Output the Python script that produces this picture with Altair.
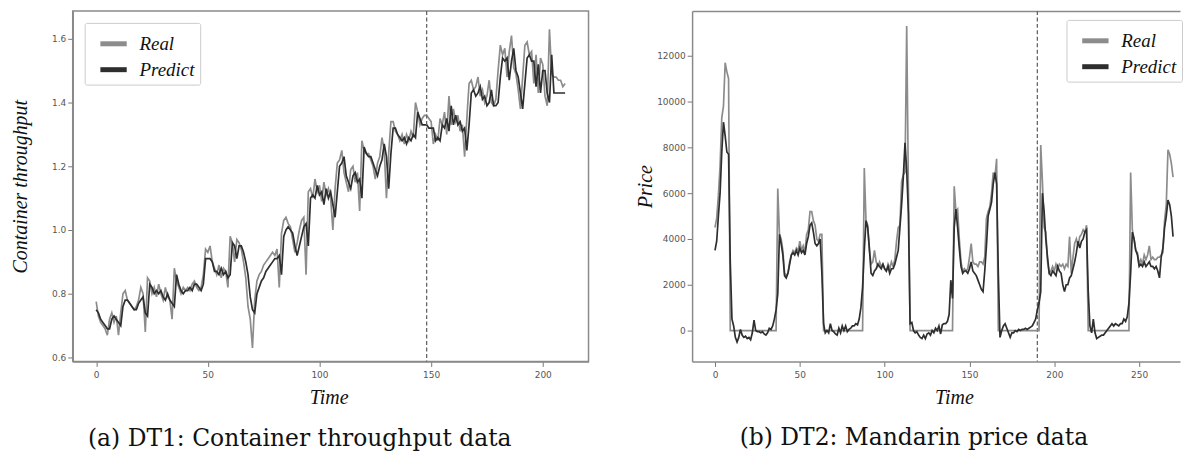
import altair as alt
import pandas as pd

# ---------------- data ----------------
series_names = ["Real", "Predict"]
series_colors = ["#8c8c8c", "#2e2e2e"]

dt1_real = [
    0.775, 0.73, 0.71, 0.70, 0.69, 0.67, 0.72, 0.74, 0.71, 0.73,
    0.67, 0.74, 0.80, 0.81, 0.78, 0.77, 0.76, 0.75, 0.76, 0.78,
    0.82, 0.80, 0.68, 0.85, 0.84, 0.80, 0.82, 0.79, 0.83, 0.80,
    0.78, 0.82, 0.79, 0.78, 0.72, 0.88, 0.84, 0.82, 0.80, 0.82,
    0.81, 0.82, 0.81, 0.83, 0.84, 0.82, 0.81, 0.82, 0.86, 0.94,
    0.93, 0.95, 0.90, 0.88, 0.86, 0.89, 0.85, 0.88, 0.87, 0.82,
    0.98, 0.96, 0.90, 0.97, 0.96, 0.94, 0.90, 0.85, 0.76, 0.72,
    0.63, 0.78, 0.84, 0.86, 0.87, 0.89, 0.90, 0.91, 0.92, 0.93,
    0.92, 0.94, 0.82, 0.99, 1.03, 1.04, 1.02, 1.01, 0.97, 0.93,
    0.96, 1.00, 1.03, 1.04, 0.86, 1.12, 1.13, 1.10, 1.16, 1.12,
    1.14, 1.09, 1.15, 1.11, 1.13, 1.10, 1.00, 1.13, 1.21, 1.22,
    1.25, 1.18, 1.15, 1.12, 1.19, 1.20, 1.15, 1.18, 1.06, 1.28,
    1.25, 1.24, 1.24, 1.22, 1.20, 1.16, 1.21, 1.23, 1.29, 1.25,
    1.10, 1.24, 1.34, 1.34, 1.31, 1.30, 1.28, 1.30, 1.27, 1.30,
    1.28, 1.31, 1.29, 1.40, 1.37, 1.33, 1.35, 1.36, 1.36, 1.35,
    1.34, 1.27, 1.30, 1.28, 1.35, 1.33, 1.37, 1.30, 1.42, 1.33,
    1.38, 1.34, 1.36, 1.31, 1.33, 1.23, 1.35, 1.46, 1.47, 1.44,
    1.45, 1.48, 1.42, 1.44, 1.40, 1.42, 1.47, 1.40, 1.39, 1.41,
    1.50, 1.58, 1.55, 1.57, 1.48, 1.56, 1.61, 1.51, 1.49, 1.44,
    1.38, 1.48, 1.58, 1.59, 1.55, 1.56, 1.46, 1.55, 1.43, 1.54,
    1.52, 1.42, 1.39, 1.63, 1.49, 1.48, 1.48, 1.47, 1.47, 1.45,
    1.46,
]

dt1_pred = [
    0.75, 0.74, 0.72, 0.71, 0.70, 0.69, 0.69, 0.72, 0.73, 0.72,
    0.71, 0.70, 0.76, 0.78, 0.78, 0.77, 0.76, 0.75, 0.75, 0.77,
    0.78, 0.79, 0.74, 0.73, 0.83, 0.82, 0.80, 0.81, 0.80, 0.81,
    0.79, 0.78, 0.80, 0.78, 0.77, 0.76, 0.86, 0.83, 0.81, 0.80,
    0.81, 0.81, 0.82, 0.81, 0.83, 0.83, 0.82, 0.81, 0.83, 0.91,
    0.91, 0.91, 0.90, 0.87, 0.87, 0.86, 0.88, 0.86, 0.87, 0.85,
    0.86, 0.96, 0.95, 0.91, 0.95, 0.95, 0.93, 0.90, 0.86, 0.79,
    0.75, 0.74, 0.80, 0.82, 0.84, 0.85, 0.87, 0.88, 0.89, 0.90,
    0.91, 0.91, 0.92, 0.86, 0.98, 1.00, 1.01, 1.00, 0.99, 0.95,
    0.92, 0.95, 0.98, 1.01, 1.02, 0.95, 1.10, 1.11, 1.10, 1.14,
    1.11, 1.12, 1.08, 1.13, 1.10, 1.12, 1.08, 1.04, 1.12, 1.20,
    1.21, 1.23, 1.17, 1.15, 1.13, 1.17, 1.18, 1.15, 1.16, 1.10,
    1.26, 1.24, 1.23, 1.23, 1.21, 1.19, 1.17, 1.20, 1.22, 1.27,
    1.23, 1.13, 1.24, 1.32, 1.32, 1.30, 1.29, 1.28, 1.29, 1.27,
    1.29, 1.28, 1.30, 1.29, 1.37, 1.35, 1.33, 1.33, 1.33, 1.32,
    1.32, 1.32, 1.28, 1.29, 1.28, 1.33, 1.32, 1.35, 1.31, 1.39,
    1.33, 1.36, 1.33, 1.34, 1.31, 1.32, 1.25, 1.33, 1.43, 1.44,
    1.42, 1.43, 1.45, 1.41, 1.42, 1.39, 1.40, 1.44, 1.39, 1.39,
    1.40, 1.48, 1.54, 1.53, 1.54, 1.47, 1.53, 1.57, 1.50, 1.48,
    1.43, 1.38, 1.46, 1.54, 1.55, 1.53, 1.53, 1.45, 1.52, 1.43,
    1.50, 1.50, 1.43, 1.40, 1.55, 1.43, 1.43, 1.43, 1.43, 1.43,
    1.43,
]
dt1_split = [148]
dt1_xticks = [0, 50, 100, 150, 200]
dt1_yticks = [0.6, 0.8, 1.0, 1.2, 1.4, 1.6]

dt2_real = [
    4500, 4900, 5900, 7200, 9300, 9800, 11700, 11300, 11000, 0,
    0, 0, 0, 0, 0, 0, 0, 0, 0, 0,
    0, 0, 0, 0, 0, 0, 0, 0, 0, 0,
    0, 0, 0, 0, 0, 0, 0, 6200, 4200, 4000,
    3500, 2500, 2400, 2500, 3000, 3300, 3500, 3400, 3600, 3500,
    3900, 3500, 3700, 3400, 4200, 4400, 5200, 5200, 4800, 4600,
    4000, 3900, 4200, 4200, 0, 0, 0, 0, 0, 0,
    0, 0, 0, 0, 0, 0, 0, 0, 0, 0,
    0, 0, 0, 0, 0, 0, 0, 0, 7100, 4800,
    4600, 3500, 2900, 3000, 3500, 3000, 2800, 3000, 2800, 2900,
    2700, 2600, 2900, 2700, 3000, 2800, 3100, 3900, 4500, 4600,
    6500, 6800, 6900, 13300, 6200, 0, 0, 0, 0, 0,
    0, 0, 0, 0, 0, 0, 0, 0, 0, 0,
    0, 0, 0, 0, 0, 0, 0, 0, 0, 0,
    0, 6300, 5200, 5300, 4000, 3000, 2600, 2700, 2600, 2700,
    3200, 3800, 3000, 2900, 2900, 2800, 3000, 3000, 2900, 3200,
    4900, 5200, 5400, 6000, 6900, 6700, 7500, 0, 0, 0,
    0, 0, 0, 0, 0, 0, 0, 0, 0, 0,
    0, 0, 0, 0, 0, 0, 0, 0, 0, 0,
    0, 0, 8100, 6500, 4500, 4300, 3000, 2500, 2600, 2800,
    2600, 2900, 2700, 2900, 2800, 2900, 2700, 2900, 2800, 4100,
    2500, 3200, 3800, 4000, 3700, 4100, 4200, 4400, 4300, 4600,
    0, 0, 0, 0, 0, 0, 0, 0, 0, 0,
    0, 0, 0, 0, 0, 0, 0, 0, 0, 0,
    0, 0, 0, 0, 0, 6900, 4400, 4000, 3500, 3400,
    2900, 3100, 2900, 3300, 3100, 3300, 3700, 3100, 3200, 3100,
    3100, 3200, 3200, 3300, 3400, 4800, 5500, 7900, 7700, 7300,
    6700,
]

dt2_pred = [
    3500, 3900, 5000, 6000, 7800, 9100, 8500, 7800, 7700, 3000,
    500, 200, -300, -500, -300, 50, -200, -300, -250, -350,
    -300, -400, -100, 450, 0, -50, -50, -100, -50, -150,
    -200, -100, 100, 50, 200, 500, 900, 1600, 4200, 3800,
    3300, 2400, 2300, 2500, 2900, 3300, 3400, 3300, 3500, 3300,
    3600, 3400, 3500, 3300, 3800, 4100, 4600, 4700, 4300, 3800,
    3700, 3800, 4000, 2500, 300, -100, 0, -100, 300, 0,
    -50, -150, -200, 100, -100, 200, 0, 200, -50, 50,
    100, 200, 200, 300, 250, 500, 1000, 1900, 3500, 4800,
    4500, 3600, 2500, 2400, 2600, 2700, 2900, 2800, 2700, 2900,
    2700, 2600, 2800, 2500, 2700, 2700, 2900, 3200, 3500, 4500,
    5500, 6700, 8200, 7000, 5100, 300, 350, 0, -100, -50,
    -200, -300, -350, -200, -350, -150, -100, -200, 0, -100,
    100, 0, 200, -150, 250, 300, 300, 400, 700, 2200,
    1400, 4500, 5300, 4500, 3600, 2800, 2500, 2600, 2600, 2500,
    2700, 3000, 2600, 2500, 2400, 2200, 2000, 1800, 1700, 2600,
    3700, 5000, 5300, 5600, 6400, 6900, 6400, 2500, -300, 0,
    200, 300, 100, -100, -300, -100, -100, 0, -50, 50,
    0, 50, 50, 100, 50, 100, 150, 200, 350, 500,
    900, 1200, 1700, 6000, 5200, 4000, 3200, 2500, 2400, 2600,
    2500, 2400, 2800, 2600, 2500, 2000, 1700, 2000, 2000, 2300,
    2400, 2700, 3000, 3400, 3900, 3600, 3900, 4000, 4300, 4400,
    1700, 200, -100, 500, -100, -350, -300, -250, -200, -200,
    -100, 0, 100, 200, 300, 200, 300, 250, 200, 300,
    300, 500, 400, 600, 1200, 2500, 4300, 4000, 3500, 3300,
    2800, 2900, 2800, 3000, 2800, 2900, 3000, 2800, 2800, 2700,
    2800, 2600, 2300, 3200, 3600, 4500, 5000, 5700, 5500, 5000,
    4100,
]
dt2_split = [190]
dt2_xticks = [0, 50, 100, 150, 200, 250]
dt2_yticks = [0, 2000, 4000, 6000, 8000, 10000, 12000]

captions = ["(a) DT1: Container throughput data", "(b) DT2: Mandarin price data"]


def long_frame(real, pred):
    rows = [{"Time": i, "value": v, "series": "Real"} for i, v in enumerate(real)]
    rows += [{"Time": i, "value": v, "series": "Predict"} for i, v in enumerate(pred)]
    return pd.DataFrame(rows)


# ---------------- styling ----------------
FRAME = "#8a8a8a"
SERIF = "Liberation Serif"
CAPTION_FONT = "DejaVu Serif"
TICK_FONT = "DejaVu Sans"
PANEL_H = 352

axis_common = dict(
    grid=False,
    labelFont=TICK_FONT,
    labelFontSize=9,
    labelColor="#555555",
    tickColor="#777777",
    tickSize=5,
    tickWidth=1,
    domainColor=FRAME,
    domainWidth=1.5,
    titleFont=SERIF,
    titleFontStyle="italic",
    titleFontWeight="normal",
    titleFontSize=20,
    titleColor="#111111",
    titleBaseline="alphabetic",
)

legend_common = dict(
    title=None,
    orient="none",
    direction="vertical",
    symbolType="stroke",
    symbolStrokeWidth=5,
    symbolSize=700,
    symbolOffset=8,
    labelFont=SERIF,
    labelFontStyle="italic",
    labelFontSize=19,
    labelColor="#111111",
    labelOffset=10,
    labelLimit=300,
    padding=5,
    rowPadding=0,
    strokeColor="#cccccc",
    fillColor="white",
    cornerRadius=2,
    labelExpr="datum.label == 'Real' ? '\u00a0\u00a0' + datum.label : datum.label",
)

color_scale = alt.Scale(domain=series_names, range=series_colors)
caption_common = dict(
    orient="bottom",
    anchor="middle",
    frame="bounds",
    font=CAPTION_FONT,
    fontSize=23.5,
    fontWeight="normal",
    color="#111111",
    baseline="alphabetic",
)

# ---------------- panel (a) ----------------
df1 = long_frame(dt1_real, dt1_pred)
x1 = alt.Scale(domain=[-10.5, 220.5], nice=False, zero=False)
y1 = alt.Scale(domain=[0.5875, 1.6875], nice=False, zero=False)

line1 = alt.Chart(df1).mark_line(strokeWidth=1.7, clip=True).encode(
    x=alt.X("Time:Q", scale=x1,
            axis=alt.Axis(values=dt1_xticks, format="d", title="Time",
                          titleX=257, titleY=42, labelPadding=4, **axis_common)),
    y=alt.Y("value:Q", scale=y1,
            axis=alt.Axis(values=dt1_yticks, format=".1f", title="Container throughput",
                          titleX=-46, labelPadding=2, **axis_common)),
    color=alt.Color("series:N", scale=color_scale, sort=series_names,
                    legend=alt.Legend(legendX=12, legendY=12, **legend_common)),
    detail="series:N",
)

rule1 = alt.Chart(pd.DataFrame({"Time": dt1_split})).mark_rule(
    color="#666666", strokeDash=[4, 2.5], strokeWidth=1.3
).encode(x=alt.X("Time:Q", scale=x1))

panel_a = alt.layer(line1, rule1).properties(
    width=518, height=PANEL_H,
    title=alt.TitleParams(text=captions[0], dx=0, offset=39, **caption_common),
)

# ---------------- panel (b) ----------------
df2 = long_frame(dt2_real, dt2_pred)
x2 = alt.Scale(domain=[-13.5, 274.1], nice=False, zero=False)
y2 = alt.Scale(domain=[-1350, 13960], nice=False, zero=False)

rule2 = alt.Chart(pd.DataFrame({"split": dt2_split})).mark_rule(
    color="#666666", strokeDash=[4, 2.5], strokeWidth=1.3
).encode(x=alt.X("split:Q", scale=x2,
                 axis=alt.Axis(orient="top", labels=False, ticks=False, title=None,
                               grid=False, domainColor=FRAME, domainWidth=1.5)))

line2 = alt.Chart(df2).mark_line(strokeWidth=1.7, clip=True).encode(
    x=alt.X("Time:Q", scale=x2,
            axis=alt.Axis(values=dt2_xticks, format="d", title="Time",
                          titleX=263, titleY=42, labelPadding=4, **axis_common)),
    y=alt.Y("value:Q", scale=y2,
            axis=alt.Axis(values=dt2_yticks, format="d", title="Price",
                          titleX=-41, labelPadding=2, **axis_common)),
    color=alt.Color("series:N", scale=color_scale, sort=series_names,
                    legend=alt.Legend(legendX=376, legendY=9, **legend_common)),
    detail="series:N",
)

panel_b = alt.layer(rule2, line2).resolve_axis(x="independent").properties(
    width=490, height=PANEL_H,
    view=alt.ViewBackground(stroke="transparent"),
    title=alt.TitleParams(text=captions[1], dx=5, offset=38, **caption_common),
)

chart = alt.hconcat(panel_a, panel_b, spacing=104, bounds="flush").resolve_scale(
    color="independent", x="independent", y="independent"
).resolve_legend(color="independent").properties(
    padding={"left": 2, "top": 0, "right": 0, "bottom": 0},
    background="white",
).configure_view(stroke=FRAME, strokeWidth=1.5)

chart.save("out.html", embed_options={"renderer": "svg", "actions": False})
